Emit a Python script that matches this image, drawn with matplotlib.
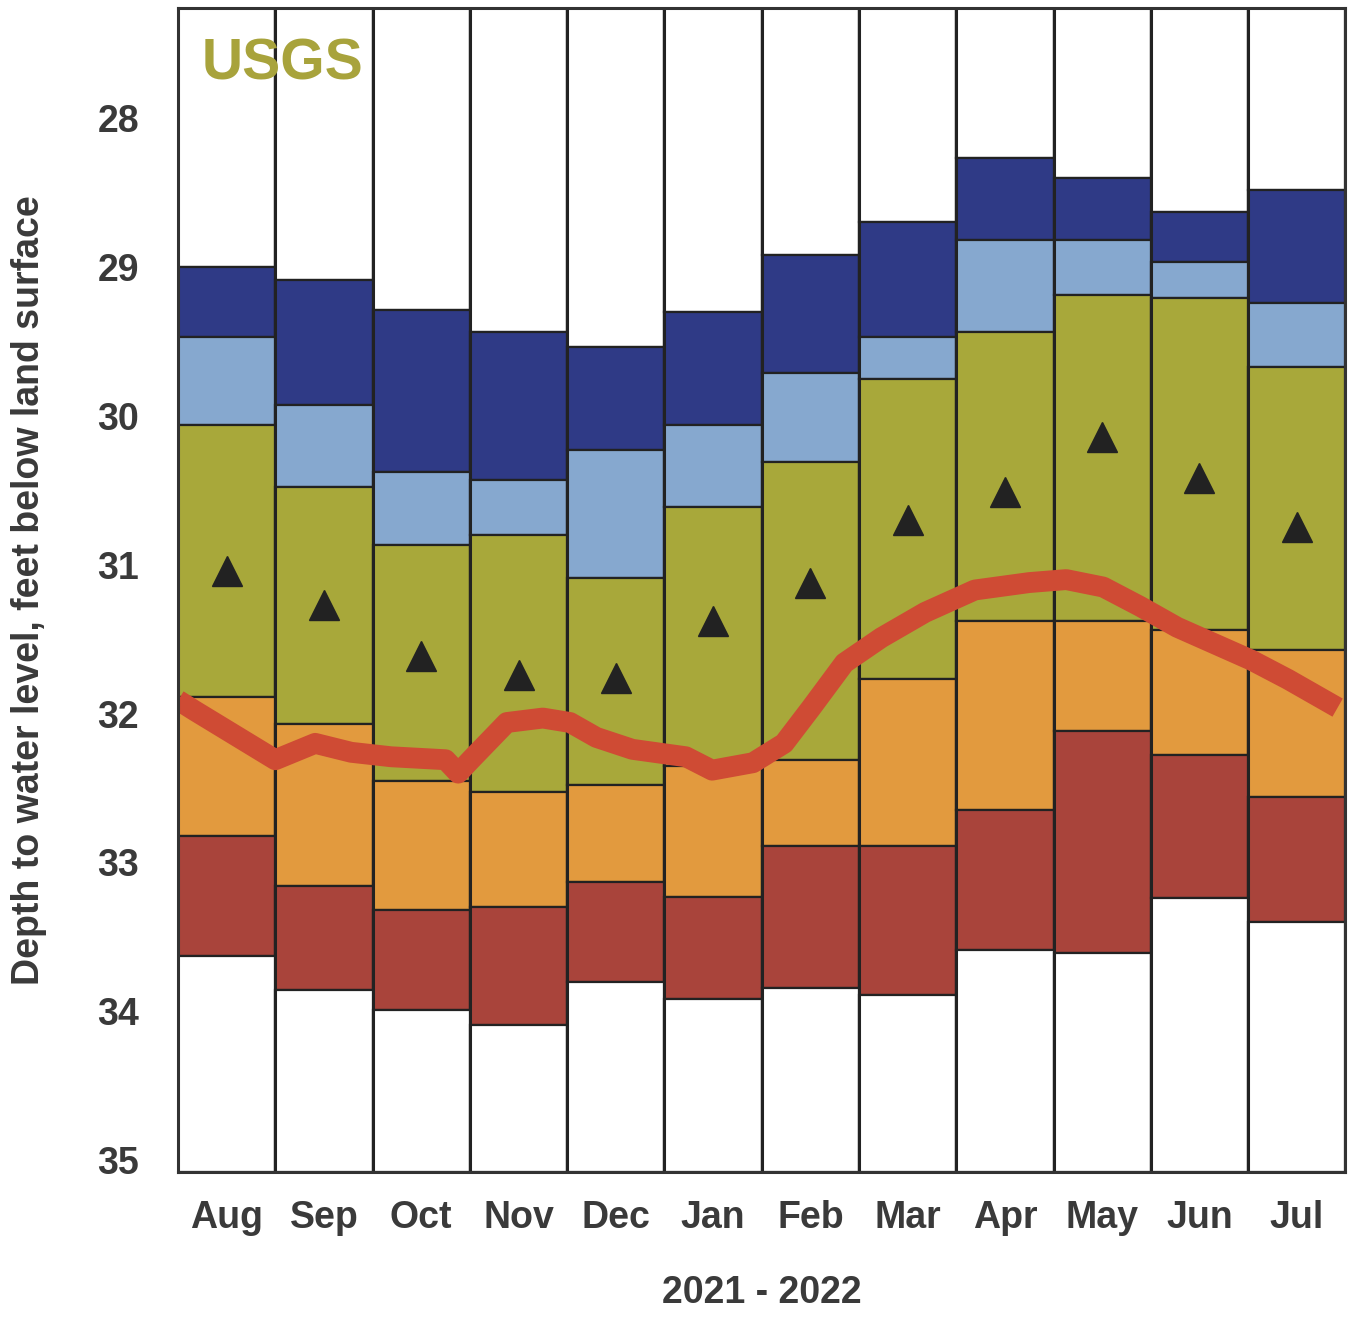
import matplotlib
matplotlib.use('Agg')
import matplotlib.pyplot as plt

# monthly percentile levels, feet below land surface
months = ['Aug', 'Sep', 'Oct', 'Nov', 'Dec', 'Jan', 'Feb', 'Mar', 'Apr', 'May', 'Jun', 'Jul']
highest = [29.00, 29.09, 29.29, 29.44, 29.54, 29.30, 28.92, 28.70, 28.27, 28.40, 28.63, 28.48]
p90 = [29.47, 29.93, 30.38, 30.43, 30.23, 30.06, 29.71, 29.47, 28.82, 28.82, 28.97, 29.24]
p75 = [30.06, 30.48, 30.87, 30.80, 31.09, 30.61, 30.31, 29.75, 29.44, 29.19, 29.21, 29.67]
p25 = [31.89, 32.07, 32.45, 32.53, 32.48, 32.35, 32.31, 31.77, 31.38, 31.38, 31.44, 31.57]
p10 = [32.82, 33.16, 33.32, 33.30, 33.13, 33.23, 32.89, 32.89, 32.65, 32.12, 32.28, 32.56]
lowest = [33.63, 33.86, 33.99, 34.09, 33.80, 33.92, 33.84, 33.89, 33.59, 33.61, 33.24, 33.40]
median = [31.04, 31.27, 31.61, 31.74, 31.76, 31.38, 31.12, 30.70, 30.51, 30.14, 30.42, 30.75]

# daily water level (position in months from Aug 1, depth)
wl_t = [0.00, 0.17, 1.00, 1.41, 1.78, 2.19, 2.75, 2.88, 3.01, 3.38, 3.75, 4.03, 4.30, 4.67,
        5.22, 5.49, 5.91, 6.23, 6.51, 6.85, 7.23, 7.68, 8.19, 8.75, 9.13, 9.51, 9.89,
        10.27, 10.65, 11.03, 11.41, 11.92]
wl_d = [31.91, 31.98, 32.31, 32.20, 32.26, 32.29, 32.31, 32.40, 32.31, 32.06, 32.03, 32.06,
        32.16, 32.24, 32.29, 32.38, 32.33, 32.20, 31.96, 31.66, 31.49, 31.32, 31.17, 31.12,
        31.10, 31.15, 31.28, 31.42, 31.53, 31.64, 31.77, 31.96]

ytop, ybot = 27.26, 35.08
colors = ['white', '#2f3a86', '#86a8cf', '#a8a83a', '#e29a3e', '#a9443b', 'white']
txt = '#3a3a3a'
plt.rcParams['font.family'] = ['Liberation Sans', 'DejaVu Sans']

fig = plt.figure(figsize=(13.59, 13.17), dpi=100)
ax = fig.add_axes([0.131, 0.110, 0.859, 0.884])

x = list(range(len(months)))
levels = [[ytop] * 12, highest, p90, p75, p25, p10, lowest, [ybot] * 12]
for k in range(7):
    lo = levels[k]
    hi = levels[k + 1]
    ax.bar(x, [h - l for h, l in zip(hi, lo)], bottom=lo, width=1.0, align='edge',
           color=colors[k], edgecolor='#222222', linewidth=1.6)

for xi in x[1:]:
    ax.axvline(xi, color='#222222', lw=2.2)

ax.plot([xi + 0.5 for xi in x], median, linestyle='none', marker='^', markersize=21,
        color='#222222')
ax.plot(wl_t, wl_d, color='#cf4b34', lw=15, solid_capstyle='butt', solid_joinstyle='round')

ax.set_xlim(0, 12)
ax.set_ylim(ybot, ytop)
ax.set_xticks([xi + 0.5 for xi in x])
ax.set_xticklabels(months)
ax.set_yticks(range(28, 36))
ax.tick_params(length=0, labelsize=27, colors=txt, pad=28)
ax.tick_params(axis='x', pad=20)
for lab in ax.get_xticklabels() + ax.get_yticklabels():
    lab.set_fontweight('bold')
for s in ax.spines.values():
    s.set_linewidth(2.2)
    s.set_color('#333333')

ax.set_ylabel('Depth to water level, feet below land surface', fontsize=27,
              fontweight='bold', color=txt, labelpad=36)
ax.set_xlabel('2021 - 2022', fontsize=27, fontweight='bold', color=txt, labelpad=28)
ax.text(0.02, 0.975, 'USGS', transform=ax.transAxes, fontsize=41, fontweight='bold',
        color='#a8a33c', va='top', ha='left')

fig.savefig('out.png', dpi=100)
